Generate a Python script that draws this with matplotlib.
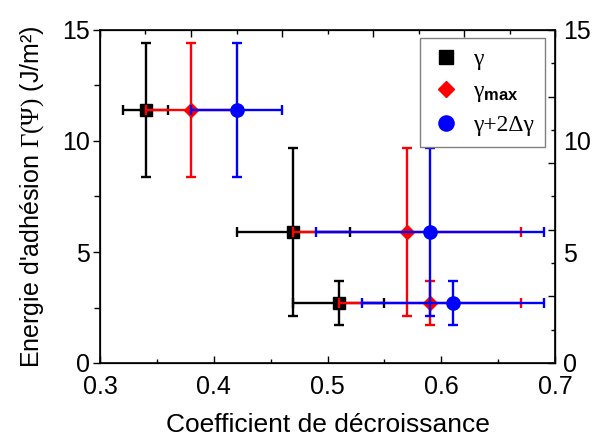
import matplotlib
matplotlib.use("Agg")
import matplotlib.pyplot as plt
from matplotlib.lines import Line2D
import numpy as np

# data
y_vals = [11.4, 5.9, 2.7]
y_err = [3.0, 3.8, 1.0]
x_gamma = [0.34, 0.47, 0.51]
xerr_gamma = [0.02, 0.05, 0.04]
x_gmax = [0.38, 0.57, 0.59]
xerr_gmax = [0.04, 0.10, 0.08]
x_g2d = [0.42, 0.59, 0.61]
xerr_g2d = [0.04, 0.10, 0.08]
labels = ["γ", r"γ$_{\mathbf{max}}$", "γ+2Δγ"]

plt.rcParams['font.family'] = ['Liberation Sans', 'DejaVu Sans']
plt.rcParams['mathtext.fontset'] = 'custom'
plt.rcParams['mathtext.rm'] = 'Liberation Serif'
plt.rcParams['mathtext.it'] = 'Liberation Serif:italic'
plt.rcParams['mathtext.bf'] = 'Liberation Sans:bold'

fig = plt.figure(figsize=(5.94, 4.36), dpi=100)
ax = fig.add_axes([100/594, 1-363/436, 455/594, 333/436])

series = [
    (x_gamma, xerr_gamma, 'black', 's', 8.5),
    (x_gmax, xerr_gmax, 'red', 'D', 7.5),
    (x_g2d, xerr_g2d, 'blue', 'o', 9.5),
]
for i, (xs, xe, c, m, ms) in enumerate(series):
    ax.errorbar(xs, y_vals, xerr=xe, yerr=y_err, fmt=m, color=c, ms=ms,
                elinewidth=1.7, capsize=3.5, capthick=1.7, zorder=3 + i)

FS = 18
ax.set_xlim(0.3, 0.7)
ax.set_ylim(0, 15)
ax.set_xticks([0.3, 0.4, 0.5, 0.6, 0.7])
ax.set_xticks(np.arange(0.35, 0.7, 0.1), minor=True)
ax.set_yticks([0, 5, 10, 15])
ax.set_yticks([2.5, 7.5, 12.5], minor=True)
ax.set_xticklabels(["0.3", "0.4", "0.5", "0.6", "0.7"])
ax.tick_params(axis='x', which='both', direction='in', labelsize=FS, pad=9)
ax.tick_params(axis='x', which='major', length=5, width=1)
ax.tick_params(axis='x', which='minor', length=3, width=1)
ax.tick_params(axis='y', which='both', direction='out', labelsize=FS, pad=2)
ax.tick_params(axis='y', which='major', length=5, width=1)
ax.tick_params(axis='y', which='minor', length=4, width=1)
for s in ax.spines.values():
    s.set_linewidth(1.2)

# top axis ticks
axt = ax.twiny()
axt.set_xlim(0.3, 0.7)
axt.set_xticks(np.linspace(0.3, 0.7, 6))
axt.set_xticks(np.linspace(0.34, 0.66, 5), minor=True)
axt.tick_params(axis='x', which='both', direction='in', labeltop=False, width=1)
axt.tick_params(axis='x', which='major', length=5)
axt.tick_params(axis='x', which='minor', length=3)

# right axis ticks
axr = ax.twinx()
axr.set_ylim(0, 15)
axr.set_yticks(np.linspace(0, 15, 6))
axr.set_yticks(np.linspace(1.5, 13.5, 5), minor=True)
axr.tick_params(axis='y', which='both', direction='in', labelright=False, width=1)
axr.tick_params(axis='y', which='major', length=5)
axr.tick_params(axis='y', which='minor', length=3)

# right labels
sec = ax.secondary_yaxis('right')
sec.set_yticks([0, 5, 10, 15])
sec.tick_params(axis='y', length=0, labelsize=FS, pad=6)

ax.set_xlabel("Coefficient de décroissance", fontsize=19, labelpad=10)
ax.set_ylabel(r"Energie d'adhésion $\mathrm{\Gamma(\Psi)}$ (J/m²)", fontsize=FS, labelpad=12)

handles = [Line2D([], [], ls='none', marker=m, color=c, ms=ms * 1.15) for (_, _, c, m, ms) in series]
leg = axr.legend(handles, labels, loc='upper right', bbox_to_anchor=(0.978, 0.976),
                 borderaxespad=0, fancybox=False, framealpha=1, edgecolor='gray',
                 prop={'family': 'Liberation Serif', 'size': 17}, handletextpad=0.5,
                 labelspacing=0.45, borderpad=0.45, handlelength=1.3)
leg.get_frame().set_linewidth(1.0)

fig.savefig("out.png", dpi=100)
